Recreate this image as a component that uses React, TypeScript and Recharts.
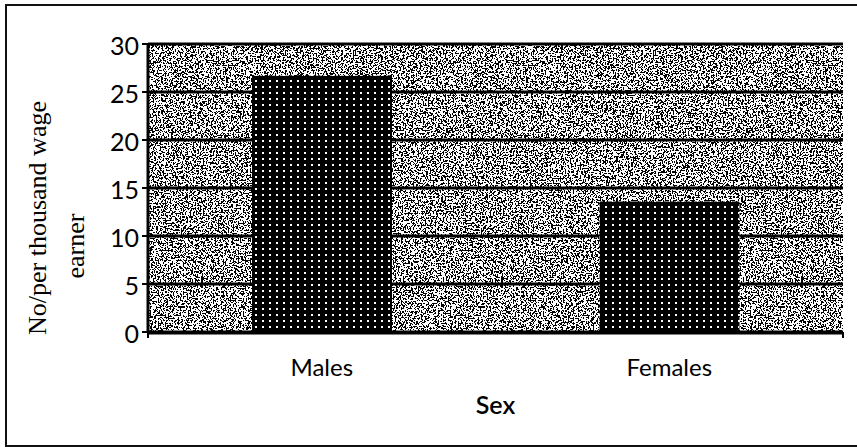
import { BarChart, Bar, XAxis, YAxis, CartesianGrid, Label } from 'recharts';

const categories = ['Males', 'Females'];
const rates = [26.7, 13.6];
const yTicks = [0, 5, 10, 15, 20, 25, 30];
const bandEdges = [0, 1, 2];

const data = categories.map((sex, i) => ({ sex, rate: rates[i] }));

const sans = 'Lato, "Open Sans", sans-serif';
const serif = '"Liberation Serif", "Times New Roman", serif';

// threshold a little under 0.5 so the speckle reads slightly lighter
const grainTable = '0 0 0 0 0 0 0 0 0 0 0 0 1 1 1 1 1 1 1 1 1 1 1 1 1';

function YTitle(props: any) {
    const vb = props.viewBox || { x: 0, y: 0, width: 148, height: 288 };
    const cy = vb.y + vb.height / 2;
    const x1 = vb.x + 46;
    const x2 = vb.x + 84;
    return (
        <g fontFamily={serif} fontSize={26} fill="#000">
            <text x={x1} y={cy + 30} textAnchor="middle" transform={`rotate(-90, ${x1}, ${cy + 30})`}>
                No/per thousand wage
            </text>
            <text x={x2} y={cy + 58} textAnchor="middle" transform={`rotate(-90, ${x2}, ${cy + 58})`}>
                earner
            </text>
        </g>
    );
}

const NoTickText = () => <g />;

export default function App() {
    return (
        <div style={{ position: 'absolute', left: 0, top: 0, width: 857, height: 447, background: '#fff', overflow: 'hidden' }}>
            <div
                style={{
                    position: 'absolute',
                    left: 5,
                    top: 4,
                    width: 870,
                    height: 443,
                    border: '2px solid #111',
                    boxSizing: 'border-box',
                }}
            />
            <BarChart
                width={857}
                height={447}
                data={data}
                margin={{ top: 44, right: 14, bottom: 35, left: 0 }}
                style={{ position: 'absolute', left: 0, top: 0 }}
            >
                <defs>
                    <filter id="grain" x="0" y="0" width="100%" height="100%" filterUnits="userSpaceOnUse">
                        <feTurbulence type="fractalNoise" baseFrequency="0.6" numOctaves={3} seed={7} result="n" />
                        <feColorMatrix in="n" type="saturate" values="0" result="g" />
                        <feComponentTransfer in="g">
                            <feFuncR type="discrete" tableValues={grainTable} />
                            <feFuncG type="discrete" tableValues={grainTable} />
                            <feFuncB type="discrete" tableValues={grainTable} />
                            <feFuncA type="linear" slope={0} intercept={1} />
                        </feComponentTransfer>
                    </filter>
                    <pattern id="noise" patternUnits="userSpaceOnUse" width={300} height={300}>
                        <rect width={300} height={300} fill="#888" filter="url(#grain)" />
                    </pattern>
                    <pattern id="dots" patternUnits="userSpaceOnUse" width={7} height={6}>
                        <rect width={7} height={6} fill="#000" />
                        <rect x={3} y={2} width={2} height={2} fill="#fff" />
                    </pattern>
                </defs>
                <CartesianGrid
                    xAxisId={1}
                    vertical={false}
                    stroke="#000"
                    strokeWidth={3}
                    fill="url(#noise)"
                    fillOpacity={1}
                />
                <XAxis
                    xAxisId={0}
                    type="number"
                    domain={[0, 2]}
                    ticks={bandEdges}
                    interval={0}
                    height={1}
                    axisLine={false}
                    tick={NoTickText}
                    tickLine={{ stroke: '#000', strokeWidth: 2 }}
                    tickSize={6}
                />
                <XAxis
                    dataKey="sex"
                    xAxisId={1}
                    height={79}
                    axisLine={{ stroke: '#000', strokeWidth: 3 }}
                    tickLine={false}
                    tick={{ fill: '#000', fontSize: 24, fontFamily: sans }}
                    tickMargin={20}
                >
                    <Label
                        value="Sex"
                        position="insideBottom"
                        offset={-2}
                        style={{ fill: '#000', fontSize: 25, fontWeight: 600, fontFamily: sans }}
                    />
                </XAxis>
                <YAxis
                    width={148}
                    domain={[0, 30]}
                    ticks={yTicks}
                    interval={0}
                    axisLine={{ stroke: '#000', strokeWidth: 3 }}
                    tickLine={{ stroke: '#000', strokeWidth: 2 }}
                    tickSize={6}
                    tickMargin={3}
                    tick={{ fill: '#000', fontSize: 25, fontFamily: sans, dy: 2 }}
                >
                    <Label content={YTitle} />
                </YAxis>
                <Bar dataKey="rate" xAxisId={1} barSize={140} fill="url(#dots)" isAnimationActive={false} />
            </BarChart>
        </div>
    );
}
